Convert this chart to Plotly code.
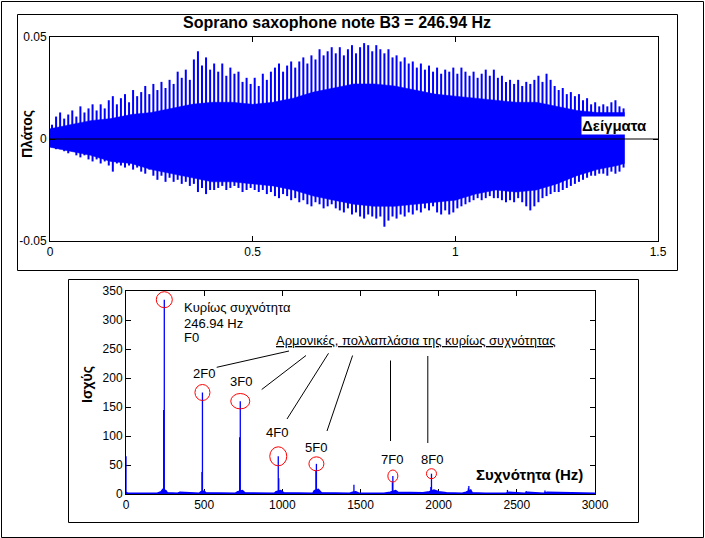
import numpy as np
import plotly.graph_objects as go

W, H = 705, 538


def PX(x):
    return x / W


def PY(y):
    return 1 - y / H


# ---------------- data: waveform (upper chart) ----------------
wave_title = "Soprano saxophone note B3 = 246.94 Hz"
wave_xticks = [0, 0.5, 1, 1.5]
wave_xticktext = ["0", "0.5", "1", "1.5"]
wave_yticks = [-0.05, 0, 0.05]
wave_yticktext = ["-0.05", "0", "0.05"]

# sample grid of the visible peak spikes (s)
spike_t = np.round(np.arange(142) * 0.01 + 0.005, 3)
spike_top = [0.007, 0.011, 0.013, 0.010, 0.012, 0.014, 0.011, 0.016, 0.013, 0.015,
             0.017, 0.014, 0.017, 0.015, 0.019, 0.021, 0.017, 0.020, 0.022, 0.018,
             0.024, 0.021, 0.023, 0.026, 0.022, 0.027, 0.024, 0.028, 0.025, 0.029,
             0.027, 0.033, 0.030, 0.034, 0.029, 0.039, 0.043, 0.036, 0.040, 0.034,
             0.037, 0.033, 0.037, 0.031, 0.035, 0.032, 0.033, 0.028, 0.030, 0.027,
             0.030, 0.026, 0.032, 0.029, 0.033, 0.035, 0.037, 0.033, 0.036, 0.038,
             0.035, 0.038, 0.040, 0.037, 0.041, 0.039, 0.044, 0.041, 0.043, 0.045,
             0.042, 0.045, 0.041, 0.044, 0.046, 0.042, 0.045, 0.047, 0.046, 0.043,
             0.046, 0.044, 0.042, 0.044, 0.040, 0.041, 0.038, 0.040, 0.037, 0.038,
             0.035, 0.037, 0.034, 0.036, 0.033, 0.035, 0.032, 0.034, 0.033, 0.035,
             0.032, 0.035, 0.033, 0.031, 0.033, 0.030, 0.032, 0.034, 0.031, 0.034,
             0.030, 0.031, 0.028, 0.029, 0.027, 0.029, 0.026, 0.028, 0.027, 0.029,
             0.031, 0.028, 0.032, 0.029, 0.026, 0.024, 0.025, 0.022, 0.023, 0.021,
             0.022, 0.019, 0.020, 0.017, 0.018, 0.016, 0.017, 0.016, 0.018, 0.019,
             0.016, 0.015]
spike_bot = [-0.004, -0.005, -0.005, -0.006, -0.007, -0.006, -0.008, -0.009, -0.008, -0.010,
             -0.011, -0.010, -0.012, -0.011, -0.013, -0.016, -0.012, -0.013, -0.014, -0.013,
             -0.015, -0.014, -0.016, -0.017, -0.015, -0.018, -0.020, -0.018, -0.021, -0.019,
             -0.021, -0.020, -0.022, -0.021, -0.023, -0.022, -0.026, -0.024, -0.027, -0.025,
             -0.025, -0.024, -0.023, -0.025, -0.024, -0.023, -0.024, -0.026, -0.025, -0.024,
             -0.025, -0.026, -0.025, -0.027, -0.026, -0.028, -0.029, -0.027, -0.028, -0.030,
             -0.029, -0.031, -0.030, -0.032, -0.033, -0.031, -0.032, -0.034, -0.033, -0.032,
             -0.034, -0.035, -0.036, -0.034, -0.037, -0.036, -0.038, -0.039, -0.037, -0.038,
             -0.039, -0.038, -0.043, -0.040, -0.038, -0.039, -0.037, -0.038, -0.036, -0.037,
             -0.035, -0.036, -0.034, -0.035, -0.033, -0.036, -0.037, -0.035, -0.037, -0.036,
             -0.034, -0.033, -0.032, -0.031, -0.030, -0.029, -0.030, -0.029, -0.028, -0.029,
             -0.029, -0.030, -0.031, -0.030, -0.031, -0.029, -0.031, -0.033, -0.035, -0.033,
             -0.031, -0.029, -0.028, -0.027, -0.026, -0.026, -0.025, -0.024, -0.023, -0.022,
             -0.021, -0.020, -0.019, -0.018, -0.018, -0.017, -0.017, -0.018, -0.016, -0.017,
             -0.016, -0.014]

# dense (solid) body of the waveform
body_t = [0, 0.05, 0.1, 0.15, 0.2, 0.25, 0.3, 0.35, 0.4, 0.45, 0.5, 0.55, 0.6, 0.65, 0.7,
          0.75, 0.8, 0.85, 0.9, 0.95, 1.0, 1.05, 1.1, 1.15, 1.2, 1.25, 1.3, 1.35, 1.4, 1.417]
body_top = [0.005, 0.007, 0.009, 0.010, 0.012, 0.013, 0.015, 0.017, 0.018, 0.018,
            0.017, 0.018, 0.020, 0.023, 0.025, 0.027, 0.027, 0.026, 0.024, 0.022,
            0.021, 0.020, 0.019, 0.018, 0.018, 0.016, 0.014, 0.013, 0.013, 0.013]
body_bot = [-0.004, -0.006, -0.008, -0.011, -0.012, -0.015, -0.017, -0.019, -0.021, -0.021,
            -0.022, -0.023, -0.025, -0.028, -0.030, -0.032, -0.033, -0.033, -0.032, -0.031,
            -0.030, -0.027, -0.025, -0.026, -0.025, -0.022, -0.018, -0.015, -0.013, -0.012]

# ---------------- data: spectrum (lower chart) ----------------
spec_xticks = [0, 500, 1000, 1500, 2000, 2500, 3000]
spec_yticks = [0, 50, 100, 150, 200, 250, 300, 350]

peak_hz = [0, 241, 245, 486, 489, 727, 731, 974, 977, 1215, 1218, 1458,
           1704, 1707, 1950, 1954, 2190, 2193, 2440, 2560, 2680]
peak_pow = [65, 145, 335, 38, 175, 98, 160, 65, 27, 40, 52, 16,
            20, 31, 12, 35, 10, 14, 7, 5, 6]

floor_hz = [0, 10, 200, 225, 235, 255, 265, 330, 345, 470, 480, 500, 510, 600, 700, 715,
            745, 760, 950, 960, 990, 1010, 1100, 1195, 1205, 1230, 1250, 1430, 1450, 1470,
            1490, 1650, 1690, 1725, 1740, 1800, 1830, 1900, 1940, 1970, 2000, 2050, 2150,
            2175, 2205, 2215, 2300, 2430, 2450, 2550, 2570, 2670, 2695, 3000]
floor_pow = [3, 1.5, 1.5, 4, 8, 6, 2, 1.5, 3, 1.5, 4, 5, 2, 1.5, 1.5, 4,
             6, 2, 1.5, 4, 6, 2, 1.5, 1.5, 6, 8, 2, 1.5, 3, 4,
             1.5, 1.5, 3, 6, 3, 3, 2, 2, 4, 7, 4, 2, 1.5,
             3, 7, 2, 1.5, 1.5, 3, 1.5, 3, 1.5, 3, 1.5]

harm_labels = ["F0", "2F0", "3F0", "4F0", "5F0", "7F0", "8F0"]
harm_hz = [245, 489, 731, 974, 1218, 1707, 1954]
harm_pow = [335, 175, 160, 65, 52, 31, 35]

# ---------------- layout geometry (pixels) ----------------
UP = dict(l=50, r=658, t=37, b=241)
LO = dict(l=126, r=595, t=291, b=494)
SPEC_XR = [0, 3000]
SPEC_YR = [0, 350]

BLUE = "#0000FF"
FONT = "Liberation Sans"

fig = go.Figure()

# waveform body
fig.add_trace(go.Scatter(
    x=list(body_t) + list(body_t[::-1]),
    y=list(body_top) + list(body_bot[::-1]),
    fill="toself", fillcolor=BLUE, mode="lines",
    line=dict(color=BLUE, width=0.5),
    xaxis="x", yaxis="y", hoverinfo="skip", showlegend=False))

# waveform spikes
sx, sy = [], []
for t, a, b in zip(spike_t, spike_top, spike_bot):
    sx += [float(t), float(t), None]
    sy += [b, a, None]
fig.add_trace(go.Scatter(x=sx, y=sy, mode="lines", line=dict(color=BLUE, width=2),
                         xaxis="x", yaxis="y", hoverinfo="skip", showlegend=False))

# spectrum floor
fig.add_trace(go.Scatter(x=floor_hz, y=floor_pow, mode="lines", fill="tozeroy",
                         fillcolor=BLUE, line=dict(color=BLUE, width=1.5),
                         xaxis="x2", yaxis="y2", hoverinfo="skip", showlegend=False))
# spectrum peaks
px_, py_ = [], []
for f, p in zip(peak_hz, peak_pow):
    px_ += [f, f, None]
    py_ += [0, p, None]
fig.add_trace(go.Scatter(x=px_, y=py_, mode="lines", line=dict(color=BLUE, width=1.3),
                         xaxis="x2", yaxis="y2", hoverinfo="skip", showlegend=False))

axis_common = dict(showline=True, linecolor="black", linewidth=1, mirror="ticks",
                   ticks="inside", ticklen=5, tickcolor="black", showgrid=False,
                   zeroline=False, fixedrange=True, automargin=False,
                   tickfont=dict(family=FONT, size=12, color="black"))

fig.update_layout(
    width=W, height=H, autosize=False,
    margin=dict(l=0, r=0, t=0, b=0, pad=0, autoexpand=False),
    paper_bgcolor="white", plot_bgcolor="white", showlegend=False,
    xaxis=dict(domain=[PX(UP["l"]), PX(UP["r"])], range=[0, 1.5], anchor="y",
               tickvals=wave_xticks, ticktext=wave_xticktext, **axis_common),
    yaxis=dict(domain=[PY(UP["b"]), PY(UP["t"])], range=[-0.05, 0.05], anchor="x",
               tickvals=wave_yticks, ticktext=wave_yticktext, **axis_common),
    xaxis2=dict(domain=[PX(LO["l"]), PX(LO["r"])], range=SPEC_XR, anchor="y2",
                tickvals=spec_xticks, ticktext=[str(v) for v in spec_xticks],
                layer="below traces", **axis_common),
    yaxis2=dict(domain=[PY(LO["b"]), PY(LO["t"])], range=SPEC_YR, anchor="x2",
                tickvals=spec_yticks, ticktext=[str(v) for v in spec_yticks],
                layer="below traces", **axis_common),
)

shapes = []
# frames
for (x0, y0, x1, y1) in [(1.5, 1.5, 703.5, 537.5), (17.5, 14.5, 677.5, 270.5),
                         (68.5, 279.5, 638.5, 522.5)]:
    shapes.append(dict(type="rect", xref="paper", yref="paper",
                       x0=PX(x0), y0=PY(y0), x1=PX(x1), y1=PY(y1),
                       line=dict(color="black", width=1), fillcolor="rgba(0,0,0,0)"))
# zero line of the waveform
shapes.append(dict(type="line", xref="x", yref="y", x0=0, x1=1.5, y0=0, y1=0,
                   line=dict(color="black", width=1)))

# red circles around harmonic peaks
kx = (LO["r"] - LO["l"]) / (SPEC_XR[1] - SPEC_XR[0])
ky = (LO["b"] - LO["t"]) / (SPEC_YR[1] - SPEC_YR[0])
circ_rx = [8, 7.5, 9.5, 8.5, 7.5, 5, 5]
circ_ry = [8, 8, 7.7, 9.5, 7, 6, 5]
for f, p, rx, ry in zip(harm_hz, harm_pow, circ_rx, circ_ry):
    shapes.append(dict(type="circle", xref="x2", yref="y2",
                       x0=f - rx / kx, x1=f + rx / kx, y0=p - ry / ky, y1=p + ry / ky,
                       line=dict(color="red", width=1)))

# leader lines (pixel coords)
leaders = [(216.7, 367.3, 289, 351), (261.7, 389.5, 306, 355.5), (287, 419, 328.5, 353.3),
           (327, 431, 352.6, 355.5), (390.5, 360.5, 390.5, 441), (427.8, 356, 427.8, 443)]
for (x0, y0, x1, y1) in leaders:
    shapes.append(dict(type="line", xref="paper", yref="paper",
                       x0=PX(x0), y0=PY(y0), x1=PX(x1), y1=PY(y1),
                       line=dict(color="black", width=1)))
fig.update_layout(shapes=shapes)

ann = []


def txt(x, y, s, size=13, bold=False, xanchor="center", angle=0, bg=None):
    d = dict(xref="paper", yref="paper", x=PX(x), y=PY(y), text=("<b>%s</b>" % s) if bold else s,
             showarrow=False, xanchor=xanchor, yanchor="middle", textangle=angle,
             font=dict(family=FONT, size=size, color="black"), borderpad=0)
    if bg:
        d["bgcolor"] = bg
    ann.append(d)


txt(337, 23, wave_title, size=16, bold=True)
txt(27, 134, "Πλάτος", size=14, bold=True, angle=-90)
txt(614.5, 125.5, "Δείγματα", size=15, bold=True, bg="white")

txt(87, 385, "Ισχύς", size=14, bold=True, angle=-90)
txt(529, 474, "Συχνότητα (Hz)", size=15, bold=True)
txt(183, 307.5, "Κυρίως συχνότητα", xanchor="left")
txt(183, 323, "246.94 Hz", xanchor="left")
txt(183, 337.5, harm_labels[0], xanchor="left")
txt(275, 340, "<u>Αρμονικές, πολλαπλάσια της κυρίως συχνότητας</u>", xanchor="left")
label_pos = [(204, 373), (240.5, 381), (277, 432), (315.5, 447), (391.5, 459), (432, 459)]
for lab, (x, y) in zip(harm_labels[1:], label_pos):
    txt(x, y, lab)
fig.update_layout(annotations=ann)

post = ("document.documentElement.style.margin='0';document.body.style.margin='0';"
        "document.body.style.padding='0';document.documentElement.style.overflow='hidden';")
fig.write_html("out.html", config={"responsive": False, "displayModeBar": False},
               post_script=post)
